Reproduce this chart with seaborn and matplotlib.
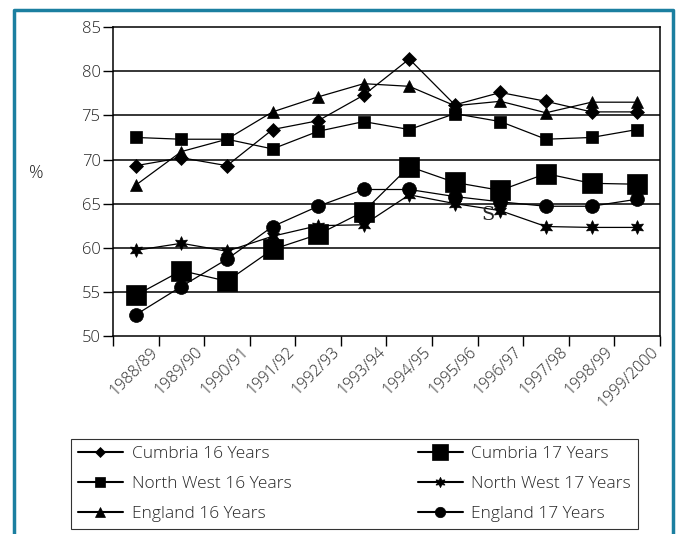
import numpy as np
import pandas as pd
import seaborn as sns
import matplotlib.pyplot as plt
from matplotlib.lines import Line2D

# categorias (años escolares)
years = ['1988/89', '1989/90', '1990/91', '1991/92', '1992/93', '1993/94',
         '1994/95', '1995/96', '1996/97', '1997/98', '1998/99', '1999/2000']

# valores (%)
cumbria_16 = [69.3, 70.2, 69.3, 73.4, 74.4, 77.3, 81.4, 76.2, 77.6, 76.6, 75.4, 75.4]
north_west_16 = [72.5, 72.3, 72.3, 71.2, 73.2, 74.3, 73.4, 75.2, 74.3, 72.3, 72.5, 73.4]
england_16 = [67.1, 70.9, 72.3, 75.4, 77.1, 78.6, 78.3, 76.1, 76.6, 75.3, 76.5, 76.5]
cumbria_17 = [54.6, 57.4, 56.2, 59.8, 61.5, 64.1, 69.2, 67.4, 66.5, 68.4, 67.3, 67.2]
north_west_17 = [59.7, 60.5, 59.6, 61.3, 62.5, 62.6, 66.0, 65.0, 64.2, 62.4, 62.3, 62.3]
england_17 = [52.4, 55.6, 58.7, 62.4, 64.7, 66.6, 66.6, 65.8, 65.2, 64.7, 64.7, 65.5]

series = ['Cumbria 16 Years', 'North West 16 Years', 'England 16 Years',
          'Cumbria 17 Years', 'North West 17 Years', 'England 17 Years']
values = [cumbria_16, north_west_16, england_16, cumbria_17, north_west_17, england_17]

# formato de cada serie: marcador y tamaño
markers = ['D', 's', '^', 's', (6, 1, 0), 'o']
sizes = [7, 9, 9, 15, 10, 10]

pos = np.arange(len(years))
df = pd.DataFrame({'pos': np.tile(pos, len(series)),
                   'serie': np.repeat(series, len(years)),
                   'valor': np.concatenate(values)})

sns.set_style('white')
plt.rcParams['font.family'] = ['Open Sans', 'DejaVu Sans']
plt.rcParams['font.weight'] = 'light'

fig = plt.figure(figsize=(6.81, 5.34), dpi=100)
ax = fig.add_axes([0.166, 0.371, 0.803, 0.578])

for s, m, ms in zip(series, markers, sizes):
    sns.lineplot(data=df[df['serie'] == s], x='pos', y='valor', ax=ax,
                 color='black', lw=0.9, marker=m, markersize=ms,
                 markeredgecolor='black', markerfacecolor='black',
                 markeredgewidth=0.5)

ax.set_xlim(-0.5, len(years) - 0.5)
ax.set_ylim(50, 85)
ax.set_yticks(range(50, 90, 5))
for y in range(55, 85, 5):
    ax.axhline(y, color='black', lw=1.1, zorder=0)

# ticks en los limites de las categorias, etiquetas corridas un poco a la derecha
ax.set_xticks(np.arange(-0.5, len(years)))
ax.set_xticklabels([])
ax.set_xticks(pos + 0.3, minor=True)
ax.set_xticklabels(years, minor=True, rotation=45, ha='right',
                   rotation_mode='anchor', fontsize=11.5)
ax.tick_params(axis='x', which='major', direction='out', length=7, width=1, color='black', bottom=True)
ax.tick_params(axis='x', which='minor', length=0, pad=6)
ax.tick_params(axis='y', direction='out', length=7, width=1, color='black', left=True,
               labelsize=12, pad=2)
for sp in ax.spines.values():
    sp.set_color('black')
    sp.set_linewidth(1.1)

ax.set_xlabel('')
ax.set_ylabel('')
fig.text(0.053, 0.676, '%', fontsize=13, ha='center', va='center')

ax.text(7.72, 63.7, 'S', fontsize=14, family='DejaVu Serif', ha='center', va='center')

handles = [Line2D([], [], color='black', lw=1.5, marker=m, markersize=ms * 0.75,
                  markerfacecolor='black', markeredgecolor='black', markeredgewidth=0.5)
           for m, ms in zip(markers, sizes)]
leg = fig.legend(handles, series, ncol=2, loc='lower left',
                 bbox_to_anchor=(0.104, 0.009, 0.833, 0.167), mode='expand',
                 borderaxespad=0, fontsize=12.5, frameon=True, fancybox=False,
                 edgecolor='black', handlelength=2.6, labelspacing=0.8,
                 borderpad=0.4, columnspacing=3.0, handletextpad=0.5)
leg.get_frame().set_linewidth(0.8)

# marco azul exterior
teal = '#1b7fa0'
fig.add_artist(Line2D([14 / 681, 14 / 681, 673 / 681, 673 / 681],
                      [0, 1 - 10 / 534, 1 - 10 / 534, 0],
                      transform=fig.transFigure, color=teal, lw=2.5))

fig.savefig('out.png', dpi=100)
